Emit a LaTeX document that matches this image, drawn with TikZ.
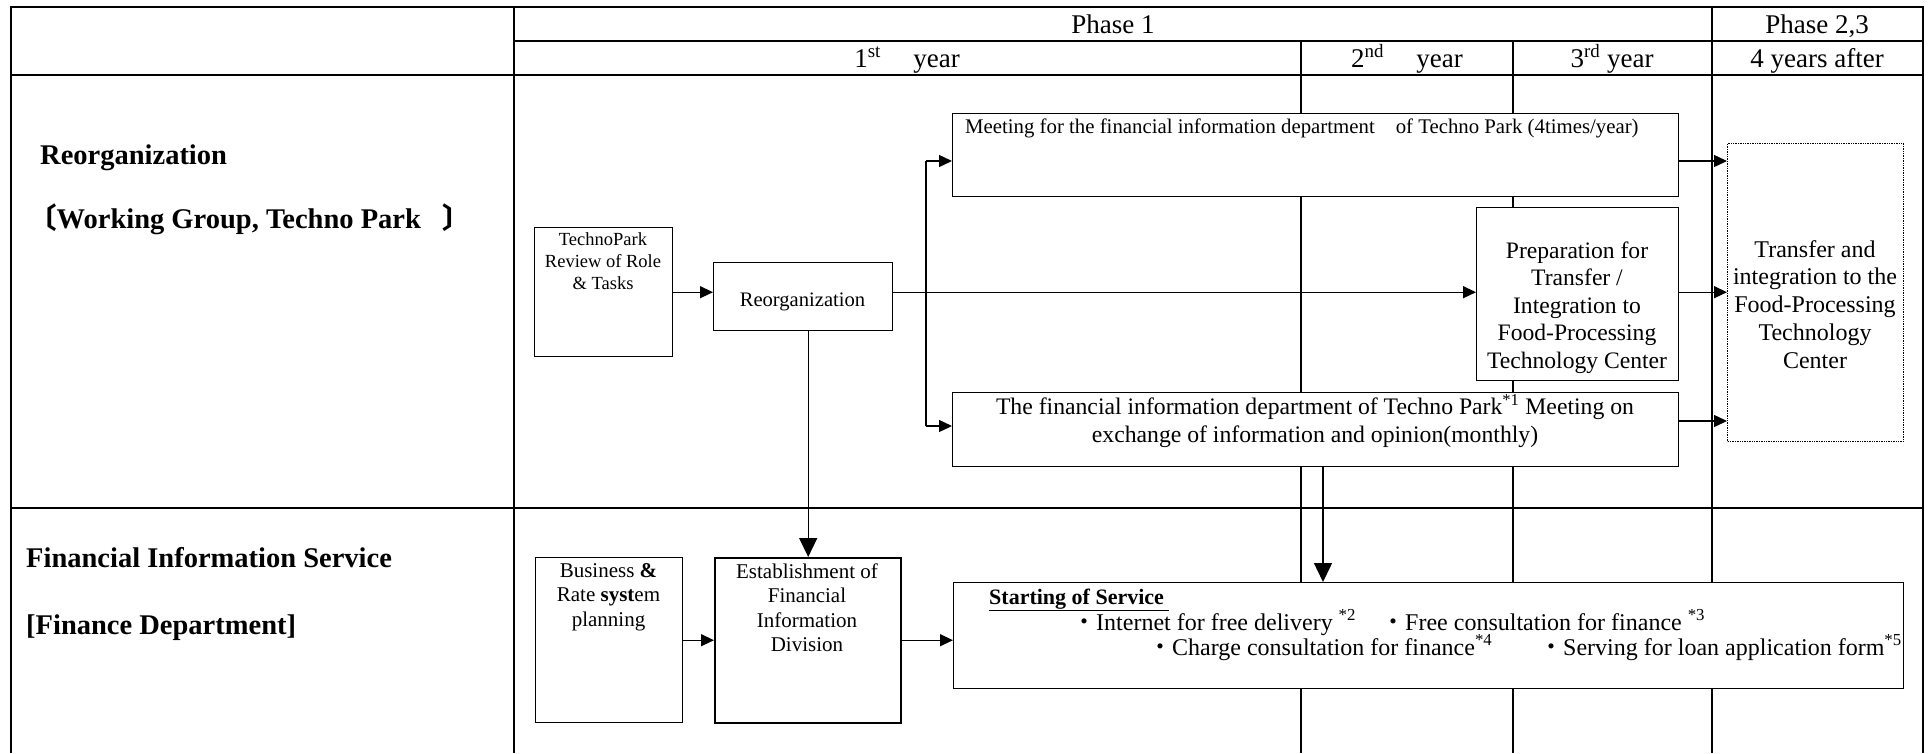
\documentclass[tikz,border=0pt]{standalone}
\usepackage{fontspec}
\setmainfont{Liberation Serif}
\newfontfamily\cjk{Noto Sans CJK JP}
\usetikzlibrary{arrows.meta}
\newcommand\myfs[2]{\fontsize{#1}{#2}\selectfont}
\begin{document}
\begin{tikzpicture}[x=1pt,y=-1pt,
  tbl/.style={line width=2pt},
  grid/.style={line width=1.4pt},
  box/.style={draw, line width=1.4pt, fill=white, inner sep=0pt, anchor=north west},
  dotbox/.style={box, densely dotted, line width=1.3pt},
  txt/.style={inner sep=0pt, align=center},
  hdr/.style={txt, anchor=base, font=\myfs{27}{30}},
  lbl/.style={txt, anchor=base west, font=\myfs{28.5}{32}\bfseries},
  arr/.style={line width=1.4pt, -{Triangle[length=13pt,width=12pt]}},
  darr/.style={line width=1.4pt, -{Triangle[length=19pt,width=18pt]}},
  ln/.style={line width=1.4pt}
]
\useasboundingbox (0,0) rectangle (1930,753);
% ---- table frame
\draw[tbl] (11,753) -- (11,7) -- (1923,7) -- (1923,753);
\draw[tbl] (514,7) -- (514,753);
\draw[tbl] (514,41) -- (1923,41);
\draw[tbl] (11,75) -- (1923,75);
\draw[tbl] (11,508) -- (1923,508);
\draw[tbl] (1712,7) -- (1712,753);
\draw[grid] (1301,41) -- (1301,753);
\draw[grid] (1513,41) -- (1513,753);
% ---- header texts
\node[hdr] (ph1) at (1113,33) {Phase 1};
\node[hdr] (ph23) at (1817,33) {Phase 2,3};
\node[hdr] (y1) at (907,67) {1\textsuperscript{st}\hspace{1.2em}year};
\node[hdr] (y2) at (1407,67) {2\textsuperscript{nd}\hspace{1.2em}year};
\node[hdr] (y3) at (1612,67) {3\textsuperscript{rd} year};
\node[hdr] (y4) at (1817,67) {4 years after};
% ---- row labels
\node[lbl] (l1) at (40,164) {Reorganization};
\node[lbl] (l2) at (28,228) {{\cjk 〔}Working Group, Techno Park\hspace{22pt}{\cjk 〕}};
\node[lbl] (l3) at (26,567) {Financial Information Service};
\node[lbl] (l4) at (26,634) {[Finance Department]};
% ---- boxes
\node[box, minimum width=138pt, minimum height=129pt] (tp) at (534,227) {};
\node[box, minimum width=179pt, minimum height=68pt] (reorg) at (713,262) {};
\node[box, minimum width=726pt, minimum height=83pt] (meet) at (952,113) {};
\node[box, minimum width=202pt, minimum height=173pt] (prep) at (1476,207) {};
\node[dotbox, minimum width=176pt, minimum height=298pt] (dot) at (1727,143) {};
\node[box, minimum width=726pt, minimum height=74pt] (fin) at (952,392) {};
\node[box, minimum width=147pt, minimum height=165pt] (bus) at (535,557) {};
\node[box, line width=2.4pt, minimum width=186pt, minimum height=165pt] (est) at (714,557) {};
\node[box, minimum width=950pt, minimum height=106pt] (start) at (953,582) {};
% ---- box texts
\node[txt, anchor=north, font=\myfs{18.5}{22}] (tpt) at (603,229.6)
  {\strut TechnoPark\\\strut Review of Role\\\strut \& Tasks};
\node[txt, anchor=base, font=\myfs{20.6}{24}] (reorgt) at (802.5,306) {Reorganization};
\node[txt, anchor=base west, font=\myfs{20.8}{24}] (meett) at (965,133)
  {Meeting for the financial information department\hspace{21pt}of Techno Park (4times/year)};
\node[txt, anchor=north, font=\myfs{23.6}{27.5}] (prept) at (1577,238.75)
  {\strut Preparation for\\\strut Transfer /\\\strut Integration to\\\strut Food-Processing\\\strut Technology Center};
\node[txt, anchor=north, font=\myfs{24}{27.75}] (dott) at (1815,237.6)
  {\strut Transfer and\\\strut integration to the\\\strut Food-Processing\\\strut Technology\\\strut Center};
\node[txt, anchor=north, font=\myfs{23.7}{27.7}] (fint) at (1315,394.6)
  {\strut The financial information department of Techno Park\textsuperscript{*1} Meeting on\\\strut exchange of information and opinion(monthly)};
\node[txt, anchor=north, font=\myfs{21}{24.5}] (bust) at (608.5,559.85)
  {\strut Business \textbf{\&}\\\strut Rate \textbf{syst}em\\\strut planning};
\node[txt, anchor=north, font=\myfs{21}{24.5}] (estt) at (807,560.85)
  {\strut Establishment of\\\strut Financial\\\strut Information\\\strut Division};
\node[txt, anchor=base west, font=\myfs{22}{25}] (st0) at (989,604)
  {\underline{\textbf{Starting of Service}\ }};
\node[txt, anchor=base west, font=\myfs{24}{25}] (st1) at (1072,630)
  {{\cjk ・}Internet for free delivery \textsuperscript{*2}};
\node[txt, anchor=base west, font=\myfs{24}{25}] (st2) at (1381,630)
  {{\cjk ・}Free consultation for finance \textsuperscript{*3}};
\node[txt, anchor=base west, font=\myfs{24}{25}] (st3) at (1148,655)
  {{\cjk ・}Charge consultation for finance\textsuperscript{*4}};
\node[txt, anchor=base west, font=\myfs{24}{25}] (st4) at (1539,655)
  {{\cjk ・}Serving for loan application form\textsuperscript{*5}};
% ---- connectors
\coordinate (brt) at (926,161);
\coordinate (brb) at (926,426);
\coordinate (fo) at (1678,421);
\coordinate (fd) at (1323,466);
\draw[arr] (tp.east) -- (tp.east -| reorg.west);
\draw[arr] (tp.east -| reorg.east) -- (tp.east -| prep.west);
\draw[ln] (brt) -- (brb);
\draw[arr] (brt) -- (brt -| meet.west);
\draw[arr] (brb) -- (brb -| fin.west);
\draw[arr] (brt -| meet.east) -- (brt -| dot.west);
\draw[arr] (tp.east -| prep.east) -- (tp.east -| dot.west);
\draw[arr] (fo) -- (fo -| dot.west);
\draw[darr] (est.north |- reorg.south) -- (est.north);
\draw[darr] (fd) -- (fd |- start.north);
\draw[arr] (bus.east) -- (bus.east -| est.west);
\draw[arr] (est.east |- bus.east) -- (bus.east -| start.west);
\end{tikzpicture}
\end{document}
